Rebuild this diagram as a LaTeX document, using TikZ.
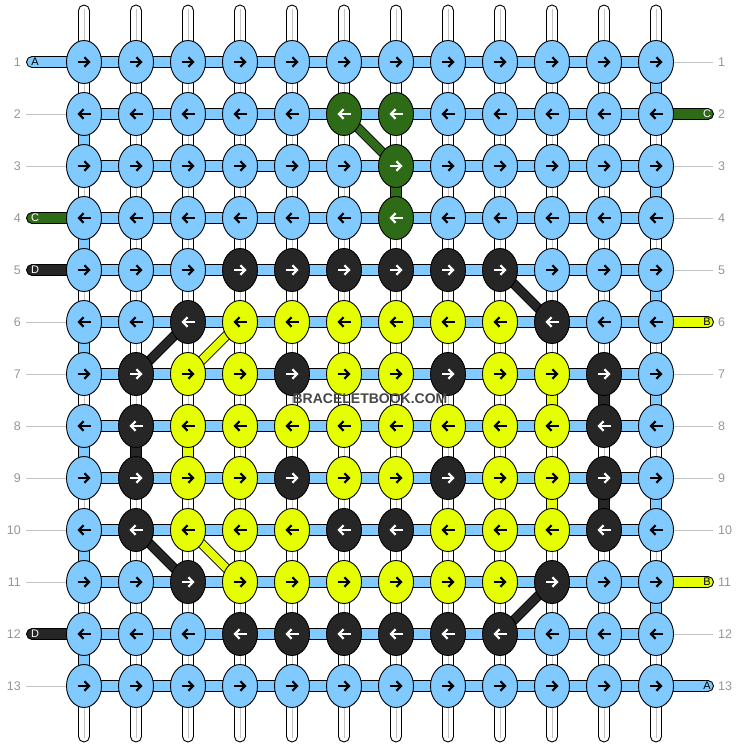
\documentclass[tikz,border=0pt]{standalone}
\usepackage{fontspec}
\setmainfont{Liberation Sans}
\usetikzlibrary{shapes.geometric,arrows.meta,calc}
\definecolor{thrA}{RGB}{128,202,255}
\definecolor{thrB}{RGB}{229,255,0}
\definecolor{thrC}{RGB}{46,107,22}
\definecolor{thrD}{RGB}{38,38,38}
\colorlet{arrA}{black}
\colorlet{arrB}{black}
\colorlet{arrC}{white}
\colorlet{arrD}{white}
\definecolor{numgrey}{RGB}{150,150,150}
\definecolor{linegrey}{RGB}{195,195,195}
\pgfdeclarelayer{paper}
\pgfdeclarelayer{threads}
\pgfsetlayers{paper,threads,main}

\tikzset{
  knot/.style={ellipse, draw=black, line width=0.9pt, minimum width=35pt, minimum height=43pt, inner sep=0pt},
  knotarrow/.style={line width=2.2pt, -{Straight Barb[length=4.5pt,width=9.5pt]}},
  warpband/.style={fill=white, draw=black, line width=0.9pt},
  warpmid/.style={draw=linegrey, line width=0.9pt},
  weftband/.style={fill=#1, draw=black, line width=0.9pt},
  diaglink/.style={draw=#1, line width=7.8pt, preaction={draw=black, line width=9.6pt}},
  rownum/.style={text=numgrey, inner sep=0pt, font=\fontsize{12.5}{14}\selectfont},
  rowline/.style={draw=linegrey, line width=0.9pt},
  leadtxt/.style={inner sep=0pt, font=\fontsize{11}{13}\selectfont},
  watermark/.style={text=black!72, inner sep=0pt, font=\bfseries\fontsize{14}{16}\selectfont}
}

\begin{document}
\begin{tikzpicture}[x=1pt,y=-1pt]
    \useasboundingbox (0,0) rectangle (740,748);
    \begin{pgfonlayer}{paper}
        \fill[white] (0,0) rectangle (740,748);
    \end{pgfonlayer}

    % Knots, row by row (A blue, B yellow, C green, D black)
    \foreach \r/\row in {
        1/{A,A,A,A,A,A,A,A,A,A,A,A},
        2/{A,A,A,A,A,C,C,A,A,A,A,A},
        3/{A,A,A,A,A,A,C,A,A,A,A,A},
        4/{A,A,A,A,A,A,C,A,A,A,A,A},
        5/{A,A,A,D,D,D,D,D,D,A,A,A},
        6/{A,A,D,B,B,B,B,B,B,D,A,A},
        7/{A,D,B,B,D,B,B,D,B,B,D,A},
        8/{A,D,B,B,B,B,B,B,B,B,D,A},
        9/{A,D,B,B,D,B,B,D,B,B,D,A},
        10/{A,D,B,B,B,D,D,B,B,B,D,A},
        11/{A,A,D,B,B,B,B,B,B,D,A,A},
        12/{A,A,A,D,D,D,D,D,D,A,A,A},
        13/{A,A,A,A,A,A,A,A,A,A,A,A}} {
        \ifodd\r\relax \def\dir{1}\else \def\dir{-1}\fi
        \foreach \k [count=\c] in \row {
            \node[knot, fill=thr\k] (k-\r-\c) at ({32+52*\c},{10+52*\r}) {};
            \draw[knotarrow, draw=arr\k] ([xshift={-6.5*\dir}]k-\r-\c.center) -- ([xshift={6.5*\dir}]k-\r-\c.center);
        }
    }

    \begin{pgfonlayer}{threads}
        % white warp threads
        \foreach \c in {1,...,12} {
            \coordinate (top-\c) at ({32+52*\c},5);
            \coordinate (bot-\c) at ({32+52*\c},742);
            \draw[warpband, rounded corners=5.5] ($(top-\c)+(-5.5,0)$) rectangle ($(k-1-\c.center)+(5.5,0)$);
            \draw[warpmid] ($(top-\c)+(0,4)$) -- (k-1-\c.center);
            \draw[warpband, rounded corners=5.5] ($(k-13-\c.center)+(-5.5,0)$) rectangle ($(bot-\c)+(5.5,0)$);
            \draw[warpmid] (k-13-\c.center) -- ($(bot-\c)+(0,-4)$);
            \foreach \r [evaluate=\r as \s using int(\r+1)] in {1,...,12} {
                \draw[warpband] ($(k-\r-\c.center)+(-5.5,0)$) rectangle ($(k-\s-\c.center)+(5.5,0)$);
                \draw[warpmid] (k-\r-\c.center) -- (k-\s-\c.center);
            }
        }
        % blue thread along the rows
        \foreach \r in {1,...,13} {
            \foreach \c [evaluate=\c as \d using int(\c+1)] in {1,...,11}
                \draw[weftband=thrA] ($(k-\r-\c.center)+(0,-5.5)$) rectangle ($(k-\r-\d.center)+(0,5.5)$);
        }
        \foreach \r/\c [evaluate=\r as \s using int(\r+1)] in {1/12,2/1,3/12,4/1,5/12,6/1,7/12,8/1,9/12,10/1,11/12,12/1}
            \draw[weftband=thrA] ($(k-\r-\c.center)+(-5.5,0)$) rectangle ($(k-\s-\c.center)+(5.5,0)$);
        % coloured threads going down
        \foreach \a/\b/\k in {3-7/4-7/C, 7-11/8-11/D, 8-2/9-2/D, 9-11/10-11/D, 7-10/8-10/B, 8-3/9-3/B, 9-10/10-10/B}
            \draw[weftband=thr\k] ($(k-\a.center)+(-5.5,0)$) rectangle ($(k-\b.center)+(5.5,0)$);
        \foreach \a/\b/\k in {2-6/3-7/C, 5-9/6-10/D, 6-3/7-2/D, 10-2/11-3/D, 11-10/12-9/D, 6-4/7-3/B, 10-3/11-4/B}
            \draw[diaglink=thr\k] (k-\a.center) -- (k-\b.center);
        % lead threads
        \foreach \r/\k in {1/A,4/C,5/D,12/D} {
            \coordinate (in-\r) at (26.5,{10+52*\r});
            \draw[weftband=thr\k, rounded corners=5.5] ($(in-\r)+(0,-5.5)$) rectangle ($(k-\r-1.center)+(0,5.5)$);
        }
        \foreach \r/\k in {2/C,6/B,11/B,13/A} {
            \coordinate (out-\r) at (713.5,{10+52*\r});
            \draw[weftband=thr\k, rounded corners=5.5] ($(k-\r-12.center)+(0,-5.5)$) rectangle ($(out-\r)+(0,5.5)$);
        }
    \end{pgfonlayer}

    % lead letters
    \foreach \r/\k in {1/A,4/C,5/D,12/D}
        \node[leadtxt, text=arr\k] (lin-\r) at (35,{10+52*\r}) {\k};
    \foreach \r/\k in {2/C,6/B,11/B,13/A}
        \node[leadtxt, text=arr\k] (lout-\r) at (707,{10+52*\r}) {\k};

    % row numbers
    \foreach \r in {1,...,13} {
        \node[rownum, anchor=east] (nl-\r) at (21,{10+52*\r}) {\r};
        \node[rownum, anchor=west] (nr-\r) at (718,{10+52*\r}) {\r};
    }
    \foreach \r in {2,3,6,7,8,9,10,11,13}
        \draw[rowline] ([xshift=5]nl-\r.east) -- (k-\r-1.west);
    \foreach \r in {1,3,4,5,7,8,9,10,12}
        \draw[rowline] (k-\r-12.east) -- ([xshift=-5]nr-\r.west);

    \node[watermark] (wm) at (370,399) {BRACELETBOOK.COM};
\end{tikzpicture}
\end{document}
